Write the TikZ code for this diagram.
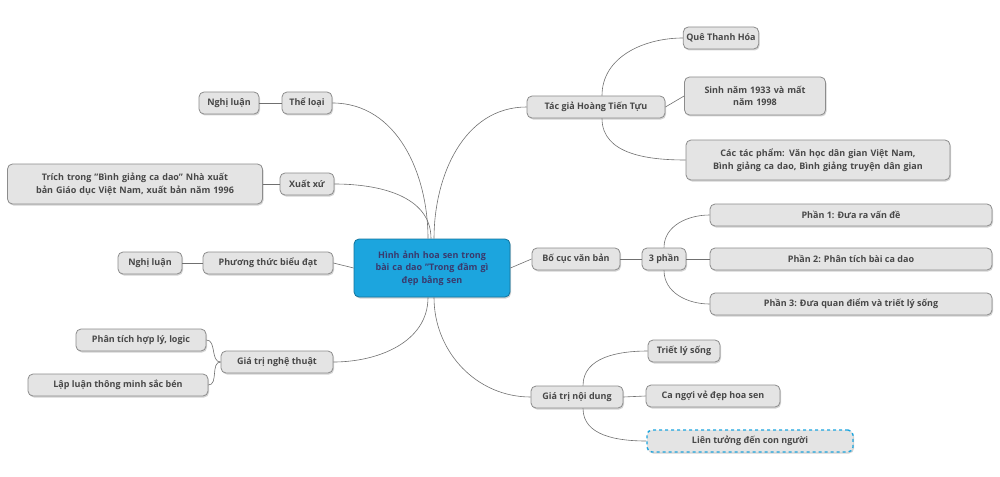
\documentclass[tikz,border=0pt]{standalone}
\usepackage{fontspec}
\setmainfont{Open Sans}
\usetikzlibrary{shadows}
\definecolor{tx}{HTML}{484848}
\definecolor{bx}{HTML}{E4E4E4}
\definecolor{bd}{HTML}{8C8C8C}
\definecolor{ctr}{HTML}{1CA5DE}
\definecolor{ln}{HTML}{707070}
\begin{document}
\begin{tikzpicture}[x=1pt,y=-1pt,
  every node/.style={font=\fontsize{9}{12.5}\selectfont\bfseries, text=tx},
  box/.style={draw=bd, fill=bx, rounded corners=5pt, line width=0.8pt, minimum height=22pt, inner sep=3pt, align=center, drop shadow={shadow xshift=1pt,shadow yshift=-1.5pt,opacity=0.35}},
  ctrbox/.style={box, fill=ctr, draw=ctr!70!black, text=tx!80!blue},
  dbox/.style={box, draw=ctr, dashed, line width=1.4pt},
  con/.style={draw=ln, line width=0.6pt}]
\useasboundingbox (0,0) rectangle (1000,476);
\node[ctrbox, minimum width=156pt, minimum height=58pt, text width=140pt] (c) at (432,268) {Hình ảnh hoa sen trong\\ bài ca dao "Trong đầm gì\\ đẹp bằng sen};
\node[box, minimum width=50pt] (tl) at (307,103) {Thể loại};
\node[box, minimum width=60pt] (nl1) at (229,103) {Nghị luận};
\node[box, minimum width=54pt] (xx) at (307,184) {Xuất xứ};
\node[box, minimum width=255pt, minimum height=40pt, text width=245pt] (tt) at (135,184) {Trích trong "Bình giảng ca dao” Nhà xuất\\ bản Giáo dục Việt Nam, xuất bản năm 1996};
\node[box, minimum width=130pt] (pt) at (268,263) {Phương thức biểu đạt};
\node[box, minimum width=64pt] (nl2) at (150,263) {Nghị luận};
\node[box, minimum width=112pt] (gn) at (277,362) {Giá trị nghệ thuật};
\node[box, minimum width=130pt] (pl) at (141,340) {Phân tích hợp lý, logic};
\node[box, minimum width=180pt] (ll) at (118,385) {Lập luận thông minh sắc bén};
\node[box, minimum width=138pt] (tg) at (596,107) {Tác giả Hoàng Tiến Tựu};
\node[box, minimum width=72pt] (q) at (721,38) {Quê Thanh Hóa};
\node[box, minimum width=140pt, minimum height=38pt, text width=135pt] (sn) at (755,96) {Sinh năm 1933 và mất\\ năm 1998};
\node[box, minimum width=264pt, minimum height=40pt, text width=258pt] (tp) at (818,160) {Các tác phẩm: Văn học dân gian Việt Nam,\\ Bình giảng ca dao, Bình giảng truyện dân gian};
\node[box, minimum width=88pt] (bc) at (576,259) {Bố cục văn bản};
\node[box, minimum width=44pt] (p3) at (664,259) {3 phần};
\node[box, minimum width=282pt] (a1) at (851,215) {Phần 1: Đưa ra vấn đề};
\node[box, minimum width=282pt] (a2) at (851,259) {Phần 2: Phân tích bài ca dao};
\node[box, minimum width=282pt] (a3) at (851,304) {Phần 3: Đưa quan điểm và triết lý sống};
\node[box, minimum width=92pt] (gd) at (577,397) {Giá trị nội dung};
\node[box, minimum width=72pt] (tr) at (684,351) {Triết lý sống};
\node[box, minimum width=134pt] (cn) at (713,396) {Ca ngợi vẻ đẹp hoa sen};
\node[dbox, minimum width=206pt] (lt) at (750,441) {Liên tưởng đến con người};
% center connectors
\path (c.north) ++(-4,0) coordinate (c1) (c.north) ++(-1,0) coordinate (c2) (c.north) ++(2,0) coordinate (c3);
\path (c.south) ++(-4,0) coordinate (d1) (c.south) ++(2,0) coordinate (d3);
\draw[con] (c1) to[out=90,in=0] (tl.east);
\draw[con] (c2) to[out=90,in=0] (xx.east);
\draw[con] (c3) to[out=90,in=180] (tg.west);
\draw[con] (c.west) -- (pt.east);
\draw[con] (c.east) -- (bc.west);
\draw[con] (d1) to[out=-90,in=0] (gn.east);
\draw[con] (d3) to[out=-90,in=180] (gd.west);
% children
\draw[con] (tl.west) -- (nl1.east);
\draw[con] (xx.west) -- (tt.east);
\draw[con] (pt.west) -- (nl2.east);
\draw[con] (gn.west) to[out=180,in=0] (pl.east);
\draw[con] (gn.west) to[out=180,in=0] (ll.east);
\path (tg.north) ++(6,0) coordinate (t1) (tg.south) ++(6,0) coordinate (t2);
\draw[con] (t1) to[out=90,in=180] (q.west);
\draw[con] (tg.east) -- (sn.west);
\draw[con] (t2) to[out=-90,in=180] (tp.west);
\draw[con] (bc.east) -- (p3.west);
\draw[con] (p3.north) to[out=90,in=180] (a1.west);
\draw[con] (p3.east) -- (a2.west);
\draw[con] (p3.south) to[out=-90,in=180] (a3.west);
\path (gd.north) ++(6,0) coordinate (g1) (gd.south) ++(6,0) coordinate (g2);
\draw[con] (g1) to[out=90,in=180] (tr.west);
\draw[con] (gd.east) -- (cn.west);
\draw[con] (g2) to[out=-90,in=180] (lt.west);
\end{tikzpicture}
\end{document}
